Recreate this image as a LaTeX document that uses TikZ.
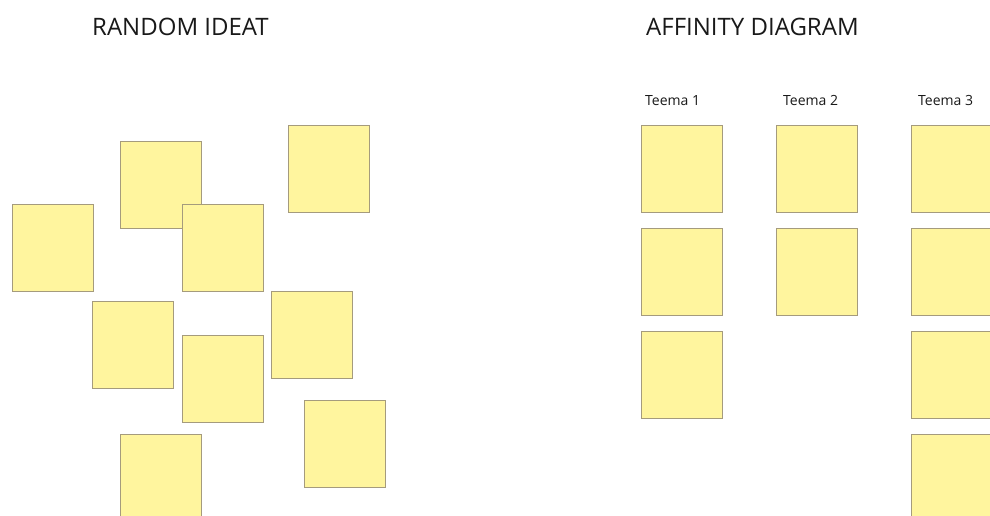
\documentclass[tikz,border=0pt]{standalone}
\usepackage{fontspec}
\setmainfont{Open Sans}
\definecolor{notefill}{RGB}{255,245,158}
\definecolor{noteedge}{RGB}{165,155,125}
\begin{document}
\begin{tikzpicture}[x=1pt,y=-1pt,
  note/.style={draw=noteedge, line width=0.8pt, fill=notefill, anchor=north west,
    minimum width=81pt, minimum height=87pt, inner sep=0pt, outer sep=0pt},
  title/.style={anchor=base west, inner sep=0pt, font=\fontsize{24}{28}\selectfont, text=black!90},
  theme/.style={anchor=base west, inner sep=0pt, font=\fontsize{14}{16}\selectfont, text=black!90}]
\useasboundingbox (0,0) rectangle (990,515);
\fill[white] (0,0) rectangle (990,515);
% titles
\node[title] (t1) at (92,35) {RANDOM IDEAT};
\node[title] (t2) at (646,35) {AFFINITY DIAGRAM};
\node[theme] (h1) at (645,105) {Teema 1};
\node[theme] (h2) at (783,105) {Teema 2};
\node[theme] (h3) at (918,105) {Teema 3};
% random notes
\node[note] (r1) at (120,141) {};
\node[note] (r2) at (288,125) {};
\node[note] (r3) at (12,204) {};
\node[note] (r4) at (182,204) {};
\node[note] (r5) at (92,301) {};
\node[note] (r6) at (271,291) {};
\node[note] (r7) at (182,335) {};
\node[note] (r8) at (304,400) {};
\node[note] (r9) at (120,434) {};
% affinity notes
\node[note] (a11) at (641,125) {};
\node[note] (a12) at (641,228) {};
\node[note] (a13) at (641,331) {};
\node[note] (a21) at (776,125) {};
\node[note] (a22) at (776,228) {};
\node[note] (a31) at (911,125) {};
\node[note] (a32) at (911,228) {};
\node[note] (a33) at (911,331) {};
\node[note] (a34) at (911,434) {};
\end{tikzpicture}
\end{document}
